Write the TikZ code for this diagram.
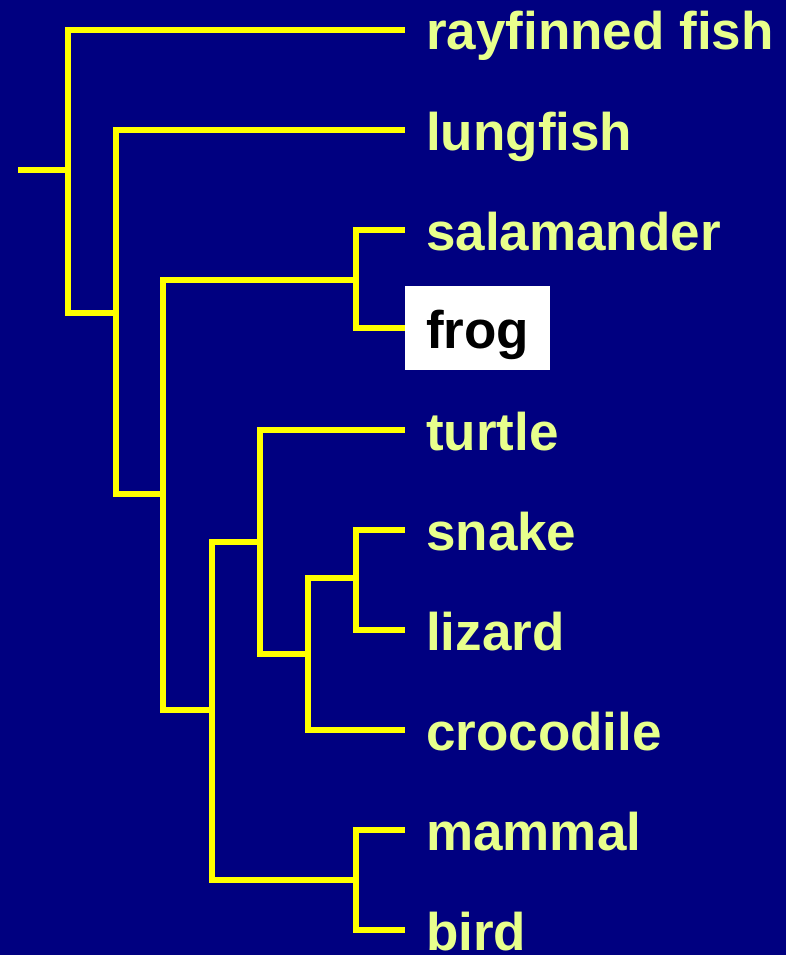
\documentclass[tikz,border=0pt]{standalone}
\usepackage{fontspec}
\setmainfont{Liberation Sans}
\usepackage{tikz}
\usepackage{xcolor}
\usetikzlibrary{positioning,calc}
\definecolor{slidenavy}{RGB}{0,0,128}
\definecolor{treeyellow}{RGB}{255,255,0}
\definecolor{taxonlime}{RGB}{232,255,140}
\tikzset{
  taxon/.style={
    anchor=base west,
    text=taxonlime,
    font=\fontsize{53}{60}\selectfont\bfseries,
    inner xsep=21pt,
    inner ysep=0pt,
    text height=62pt,
    text depth=22pt
  },
  markedtaxon/.style={taxon, fill=white, text=black},
  branch/.style={draw=treeyellow, line width=6pt, line join=miter}
}

\begin{document}
\begin{tikzpicture}[x=1pt, y=-1pt]
\useasboundingbox (0,0) rectangle (786,955);
\fill[slidenavy] (0,0) rectangle (786,955);

\node[taxon] (rayfin) at (405,50) {rayfinned fish};
\node[taxon] (lungfish) at (405,150) {lungfish};
\node[taxon] (salamander) at (405,250) {salamander};
\node[markedtaxon] (frog) at (405,348) {frog};
\node[taxon] (turtle) at (405,450) {turtle};
\node[taxon] (snake) at (405,550) {snake};
\node[taxon] (lizard) at (405,650) {lizard};
\node[taxon] (crocodile) at (405,750) {crocodile};
\node[taxon] (mammal) at (405,850) {mammal};
\node[taxon] (bird) at (405,950) {bird};

\coordinate (stem) at (18,170);
\coordinate (vertebrates) at (68,170);
\coordinate (sarcopts) at (116,313);
\coordinate (tetrapods) at (163,494);
\coordinate (amphibians) at (356,280);
\coordinate (amniotes) at (212,710);
\coordinate (reptiles) at (260,542);
\coordinate (lepidosaurs) at (308,654);
\coordinate (squamates) at (356,578);
\coordinate (birdmammal) at (356,880);

\draw[branch] (stem) -- (vertebrates);
\draw[branch] (vertebrates) |- (rayfin.west);
\draw[branch] (vertebrates) |- (sarcopts);
\draw[branch] (sarcopts) |- (lungfish.west);
\draw[branch] (sarcopts) |- (tetrapods);
\draw[branch] (tetrapods) |- (amphibians);
\draw[branch] (tetrapods) |- (amniotes);
\draw[branch] (amphibians) |- (salamander.west);
\draw[branch] (amphibians) |- (frog.west);
\draw[branch] (amniotes) |- (reptiles);
\draw[branch] (amniotes) |- (birdmammal);
\draw[branch] (reptiles) |- (turtle.west);
\draw[branch] (reptiles) |- (lepidosaurs);
\draw[branch] (lepidosaurs) |- (squamates);
\draw[branch] (lepidosaurs) |- (crocodile.west);
\draw[branch] (squamates) |- (snake.west);
\draw[branch] (squamates) |- (lizard.west);
\draw[branch] (birdmammal) |- (mammal.west);
\draw[branch] (birdmammal) |- (bird.west);
\end{tikzpicture}
\end{document}
